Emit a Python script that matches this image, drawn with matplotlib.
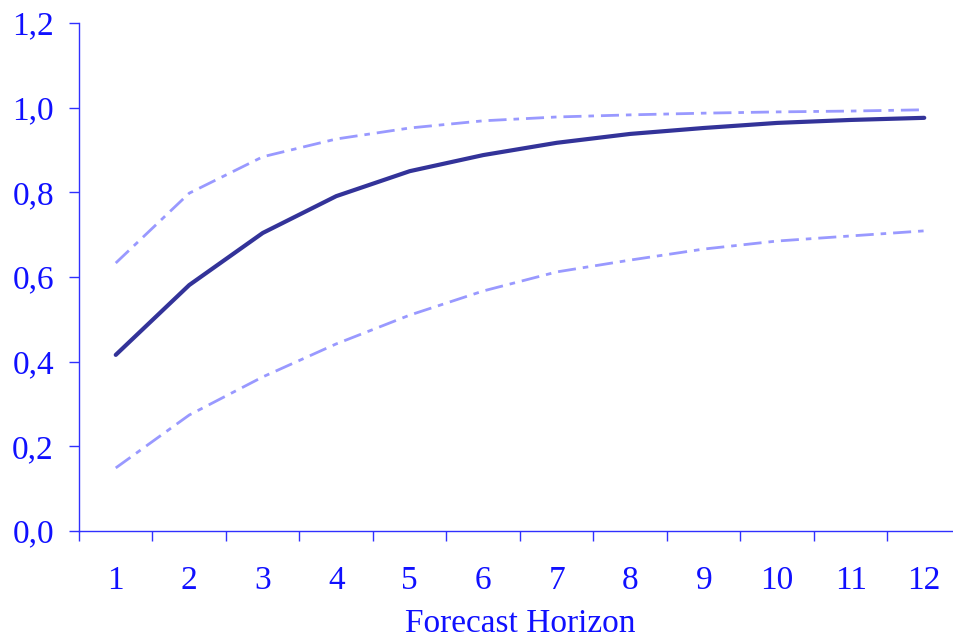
import matplotlib
matplotlib.use("Agg")
import matplotlib.pyplot as plt
from matplotlib.ticker import FixedLocator, FuncFormatter

horizons = [1, 2, 3, 4, 5, 6, 7, 8, 9, 10, 11, 12]
central = [0.416, 0.581, 0.704, 0.791, 0.850, 0.888, 0.917, 0.938, 0.952, 0.964, 0.971, 0.976]
upper = [0.633, 0.798, 0.884, 0.926, 0.952, 0.969, 0.978, 0.983, 0.987, 0.990, 0.992, 0.995]
lower = [0.149, 0.274, 0.364, 0.442, 0.510, 0.567, 0.612, 0.640, 0.666, 0.685, 0.697, 0.709]
yticks = [0.0, 0.2, 0.4, 0.6, 0.8, 1.0, 1.2]

plt.rcParams['font.family'] = ['Liberation Serif', 'DejaVu Serif']
plt.rcParams['lines.scale_dashes'] = False

text_c = '#1010ff'
axis_c = '#3030ff'

fig = plt.figure(figsize=(9.54, 6.39), dpi=100)
ax = fig.add_axes([79/954, 108/639, 882/954, 508/639])

x = list(range(len(horizons)))
dash = (0, (13, 5, 4, 5))
ax.plot(x, upper, color='#9999ff', lw=2.0, linestyle=dash)
ax.plot(x, lower, color='#9999ff', lw=2.0, linestyle=dash)
ax.plot(x, central, color='#333399', lw=3.0, solid_capstyle='round')

ax.set_xlim(-0.5, len(horizons) - 0.5)
ax.set_ylim(0, 1.2)

for s in ['top', 'right']:
    ax.spines[s].set_visible(False)
for s in ['left', 'bottom']:
    ax.spines[s].set_color(axis_c)
    ax.spines[s].set_linewidth(1.0)

ax.set_yticks(yticks)
ax.yaxis.set_major_formatter(FuncFormatter(lambda v, p: f"{v:.1f}".replace('.', ',')))
ax.tick_params(axis='y', direction='out', length=7, width=1.0, color=axis_c,
               labelcolor=text_c, labelsize=24, pad=11)

ax.set_xticks(x)
ax.set_xticklabels([str(h) for h in horizons])
ax.xaxis.set_minor_locator(FixedLocator([i - 0.5 for i in range(len(horizons) + 1)]))
ax.tick_params(axis='x', which='major', length=0, labelcolor=text_c, labelsize=24, pad=25)
ax.tick_params(axis='x', which='minor', direction='out', length=7, width=1.0, color=axis_c)

ax.set_xlabel('Forecast Horizon', color=text_c, fontsize=24, labelpad=9)

fig.savefig('out.png', dpi=100)
